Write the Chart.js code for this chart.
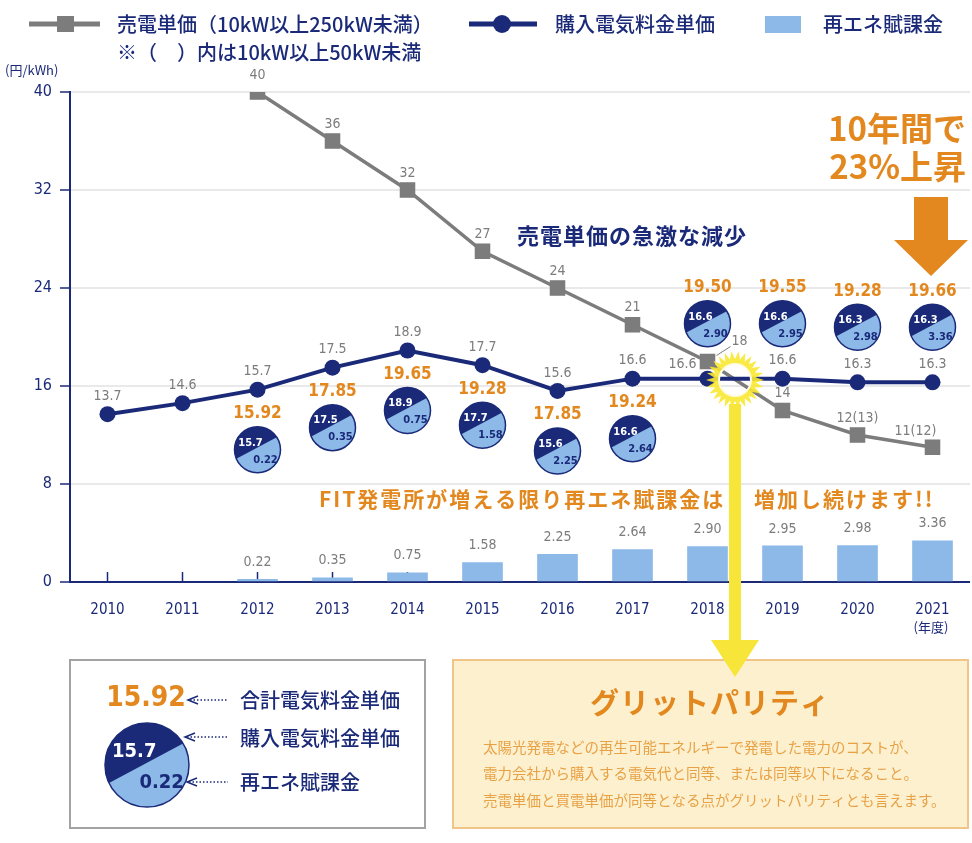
<!DOCTYPE html>
<html>
<head>
<meta charset="utf-8">
<script src="https://cdn.jsdelivr.net/npm/chart.js@4.4.0/dist/chart.umd.min.js"></script>
<style>
html,body{margin:0;padding:0;background:#fff;}
canvas{display:block;}
</style>
</head>
<body>
<canvas id="chart" width="972" height="843"></canvas>
<script>
// data
const years = ['2010','2011','2012','2013','2014','2015','2016','2017','2018','2019','2020','2021'];
const sellPrice = [null,null,40,36,32,27,24,21,18,14,12,11];
const sellLabels = ['','','40','36','32','27','24','21','18','14','12(13)','11(12)'];
const buyPrice = [13.7,14.6,15.7,17.5,18.9,17.7,15.6,16.6,16.6,16.6,16.3,16.3];
const levy = [null,null,0.22,0.35,0.75,1.58,2.25,2.64,2.90,2.95,2.98,3.36];
const totalPrice = [null,null,15.92,17.85,19.65,19.28,17.85,19.24,19.50,19.55,19.28,19.66];
const yTicks = [0,8,16,24,32,40];

const NAVY = '#1b2a78';
const GRAY = '#7c7c7c';
const LIGHT = '#8db9e9';
const ORANGE = '#e2881f';
const YELLOW = '#f7e53a';
const NUM = "'Liberation Sans Narrow','DejaVu Sans Condensed','Roboto',sans-serif";
const JP = "'Noto Sans CJK JP','Noto Sans',sans-serif";

function txt(ctx, s, x, y, font, color, align, spacing) {
  ctx.font = font;
  ctx.fillStyle = color;
  ctx.textAlign = align || 'center';
  ctx.textBaseline = 'middle';
  ctx.letterSpacing = (spacing || 0) + 'px';
  ctx.fillText(s, x, y);
  ctx.letterSpacing = '0px';
}

function drawPie(ctx, cx, cy, r, top, bottom, fs) {
  ctx.save();
  ctx.beginPath();
  ctx.arc(cx, cy, r, 0, Math.PI * 2);
  ctx.fillStyle = LIGHT;
  ctx.fill();
  ctx.save();
  ctx.clip();
  ctx.translate(cx, cy);
  ctx.rotate(-28 * Math.PI / 180);
  ctx.fillStyle = NAVY;
  ctx.fillRect(-r - 2, -r - 2, 2 * r + 4, r);
  ctx.restore();
  ctx.beginPath();
  ctx.arc(cx, cy, r, 0, Math.PI * 2);
  ctx.strokeStyle = NAVY;
  ctx.lineWidth = 1.5;
  ctx.stroke();
  const k = r / 23;
  txt(ctx, top, cx - 7 * k, cy - 7 * k, 'bold ' + fs + 'px ' + NUM, '#fff');
  txt(ctx, bottom, cx + 8 * k, cy + 10 * k, 'bold ' + fs + 'px ' + NUM, NAVY);
  ctx.restore();
}

function dotArrow(ctx, x1, x2, y) {
  ctx.save();
  ctx.strokeStyle = NAVY;
  ctx.lineWidth = 1.5;
  ctx.beginPath();
  ctx.moveTo(x1 + 10, y - 4);
  ctx.lineTo(x1, y);
  ctx.lineTo(x1 + 10, y + 4);
  ctx.stroke();
  ctx.setLineDash([1.5, 2]);
  ctx.beginPath();
  ctx.moveTo(x1 + 2, y);
  ctx.lineTo(x2, y);
  ctx.stroke();
  ctx.restore();
}

const annot = {
  id: 'annot',
  beforeDatasetsDraw(chart) {
    const {ctx, scales: {x, y}} = chart;
    ctx.save();
    ctx.strokeStyle = NAVY;
    ctx.lineWidth = 1.5;
    years.forEach((_, i) => {
      const px = x.getPixelForValue(i);
      ctx.beginPath();
      ctx.moveTo(px, y.bottom);
      ctx.lineTo(px, y.bottom - 10);
      ctx.stroke();
    });
    ctx.restore();
  },
  afterDraw(chart) {
    const {ctx, scales: {x, y}} = chart;
    ctx.save();

    // value labels
    const lf = '14px ' + NUM;
    sellPrice.forEach((v, i) => {
      if (v == null) return;
      const px = x.getPixelForValue(i), py = y.getPixelForValue(v);
      if (i === 8) {
        ctx.strokeStyle = GRAY; ctx.lineWidth = 1;
        ctx.beginPath(); ctx.moveTo(px + 9, py - 6); ctx.lineTo(px + 23, py - 15); ctx.stroke();
        txt(ctx, sellLabels[i], px + 32, py - 20, lf, GRAY);
      } else if (i === 11) {
        txt(ctx, sellLabels[i], px - 17, py - 16, lf, GRAY);
      } else {
        txt(ctx, sellLabels[i], px, py - 17, lf, GRAY);
      }
    });
    buyPrice.forEach((v, i) => {
      const px = x.getPixelForValue(i), py = y.getPixelForValue(v);
      if (i === 8) txt(ctx, v.toFixed(1), px - 25, py - 14, lf, GRAY);
      else txt(ctx, v.toFixed(1), px, py - 18, lf, GRAY);
    });
    levy.forEach((v, i) => {
      if (v == null) return;
      const px = x.getPixelForValue(i), py = y.getPixelForValue(v);
      txt(ctx, v.toFixed(2), px, py - 17, lf, GRAY);
    });

    // total + breakdown circles
    totalPrice.forEach((t, i) => {
      if (t == null) return;
      const px = x.getPixelForValue(i), py = y.getPixelForValue(buyPrice[i]);
      const cy = i < 8 ? py + 60 : py - 55;
      txt(ctx, t.toFixed(2), px, cy - 36, 'bold 17px ' + NUM, ORANGE);
      drawPie(ctx, px, cy, 23, buyPrice[i].toFixed(1), levy[i].toFixed(2), 11);
    });

    // annotations in plot
    txt(ctx, '売電単価の急激な減少', 632, 236, 'bold 22px ' + JP, NAVY, 'center', 1);
    txt(ctx, '10年間で', 966, 128, 'bold 33px ' + JP, ORANGE, 'right');
    txt(ctx, '23%上昇', 966, 166, 'bold 33px ' + JP, ORANGE, 'right');
    ctx.fillStyle = ORANGE;
    ctx.beginPath();
    ctx.moveTo(914, 197); ctx.lineTo(948, 197); ctx.lineTo(948, 240); ctx.lineTo(968, 240);
    ctx.lineTo(931, 276); ctx.lineTo(894, 240); ctx.lineTo(914, 240); ctx.closePath();
    ctx.fill();
    txt(ctx, 'FIT発電所が増える限り再エネ賦課金は', 319, 499, 'bold 21px ' + JP, ORANGE, 'left', 2);
    txt(ctx, '増加し続けます!!', 754, 499, 'bold 21px ' + JP, ORANGE, 'left', 2);
    txt(ctx, '(円/kWh)', 5, 70, '13px ' + JP, NAVY, 'left');
    txt(ctx, '(年度)', 931, 627, '13px ' + JP, NAVY);

    // legend
    ctx.strokeStyle = GRAY; ctx.lineWidth = 5;
    ctx.beginPath(); ctx.moveTo(29, 24); ctx.lineTo(100, 24); ctx.stroke();
    ctx.fillStyle = GRAY; ctx.fillRect(57, 16, 17, 16);
    txt(ctx, '売電単価（10kW以上250kW未満）', 117, 24, '500 20px ' + JP, NAVY, 'left');
    txt(ctx, '※（　）内は10kW以上50kW未満', 117, 52, '500 20px ' + JP, NAVY, 'left');
    ctx.strokeStyle = NAVY; ctx.lineWidth = 5;
    ctx.beginPath(); ctx.moveTo(469, 24); ctx.lineTo(537, 24); ctx.stroke();
    ctx.fillStyle = NAVY; ctx.beginPath(); ctx.arc(502, 24, 9, 0, Math.PI * 2); ctx.fill();
    txt(ctx, '購入電気料金単価', 555, 24, '500 20px ' + JP, NAVY, 'left');
    ctx.fillStyle = LIGHT; ctx.fillRect(765, 16, 36, 17);
    txt(ctx, '再エネ賦課金', 823, 24, '500 20px ' + JP, NAVY, 'left');

    // bottom left explanation box
    ctx.fillStyle = '#fff';
    ctx.fillRect(70, 660, 355, 168);
    ctx.strokeStyle = '#a3a3a3'; ctx.lineWidth = 2;
    ctx.strokeRect(70, 660, 355, 168);
    txt(ctx, '15.92', 146, 699, 'bold 28px ' + NUM, ORANGE);
    drawPie(ctx, 147, 765, 42, '15.7', '0.22', 20);
    dotArrow(ctx, 188, 228, 700);
    dotArrow(ctx, 185, 228, 737);
    dotArrow(ctx, 187, 228, 782);
    txt(ctx, '合計電気料金単価', 240, 700, '500 20px ' + JP, NAVY, 'left');
    txt(ctx, '購入電気料金単価', 240, 738, '500 20px ' + JP, NAVY, 'left');
    txt(ctx, '再エネ賦課金', 240, 782, '500 20px ' + JP, NAVY, 'left');

    // grid parity box
    ctx.fillStyle = '#fdf0cf';
    ctx.fillRect(453, 660, 515, 168);
    ctx.strokeStyle = '#f1c487'; ctx.lineWidth = 2;
    ctx.strokeRect(453, 660, 515, 168);
    txt(ctx, 'グリットパリティ', 710, 703, 'bold 29px ' + JP, ORANGE, 'center', 1);
    const body = '#e8a246';
    txt(ctx, '太陽光発電などの再生可能エネルギーで発電した電力のコストが、', 483, 747, '14.5px ' + JP, body, 'left');
    txt(ctx, '電力会社から購入する電気代と同等、または同等以下になること。', 483, 773, '14.5px ' + JP, body, 'left');
    txt(ctx, '売電単価と買電単価が同等となる点がグリットパリティとも言えます。', 483, 800, '14.5px ' + JP, body, 'left');

    // grid parity marker and yellow arrow
    const gx = 735, gy = 380;
    ctx.beginPath();
    const n = 26;
    for (let k = 0; k <= 2 * n; k++) {
      const a = k * Math.PI / n;
      const r = k % 2 ? 21 : 29;
      const px = gx + r * Math.cos(a), py = gy + r * Math.sin(a);
      if (k === 0) ctx.moveTo(px, py); else ctx.lineTo(px, py);
    }
    ctx.closePath();
    ctx.moveTo(gx + 16, gy);
    ctx.arc(gx, gy, 16, 0, Math.PI * 2, true);
    ctx.fillStyle = 'rgba(248,232,50,0.9)';
    ctx.fill('evenodd');
    ctx.strokeStyle = '#fffbe0'; ctx.lineWidth = 2;
    ctx.beginPath(); ctx.arc(gx, gy, 16, 0, Math.PI * 2); ctx.stroke();

    ctx.fillStyle = YELLOW;
    ctx.fillRect(729, 404, 12, 239);
    ctx.beginPath();
    ctx.moveTo(711, 640); ctx.lineTo(759, 640); ctx.lineTo(735, 677); ctx.closePath();
    ctx.fill();

    ctx.restore();
  }
};

new Chart(document.getElementById('chart'), {
  data: {
    labels: years,
    datasets: [
      {
        type: 'line', label: '売電単価', data: sellPrice, order: 2,
        borderColor: GRAY, backgroundColor: GRAY, borderWidth: 3.5,
        pointStyle: 'rect', pointRadius: 11, pointBorderWidth: 0
      },
      {
        type: 'line', label: '購入電気料金単価', data: buyPrice, order: 1,
        borderColor: NAVY, backgroundColor: NAVY, borderWidth: 4,
        pointRadius: 8, pointBorderWidth: 0
      },
      {
        type: 'bar', label: '再エネ賦課金', data: levy, order: 3,
        backgroundColor: LIGHT, barThickness: 40
      }
    ]
  },
  options: {
    responsive: false,
    animation: false,
    layout: { autoPadding: false, padding: { top: 92, left: 0, right: 2, bottom: 221 } },
    plugins: { legend: { display: false }, tooltip: { enabled: false } },
    scales: {
      x: {
        offset: true,
        grid: { display: false },
        border: { display: false },
        ticks: { color: NAVY, font: { size: 15, family: NUM }, padding: 11 },
        afterFit(s) { s.height = 40; }
      },
      y: {
        min: 0, max: 40,
        afterBuildTicks(s) { s.ticks = yTicks.map(v => ({ value: v })); },
        grid: {
          color: c => c.tick && c.tick.value === 0 ? NAVY : '#e9e9e9',
          lineWidth: 2, tickLength: 10, tickColor: NAVY, tickWidth: 1.5
        },
        border: { color: NAVY, width: 2 },
        ticks: { color: NAVY, font: { size: 16, family: NUM }, padding: 8 },
        afterFit(s) { s.width = 70; }
      }
    }
  },
  plugins: [annot]
});
</script>
</body>
</html>
